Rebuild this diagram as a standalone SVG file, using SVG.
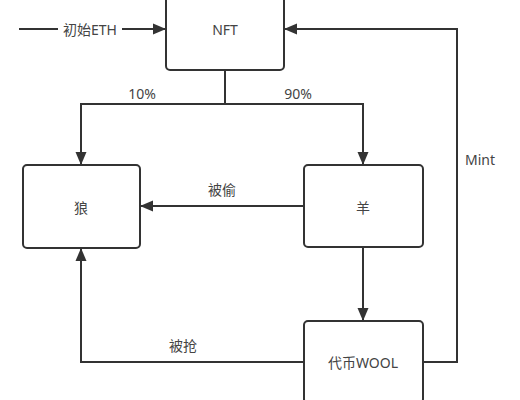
<svg xmlns="http://www.w3.org/2000/svg" width="520" height="400" viewBox="0 0 520 400">
<defs>
<marker id="arr" markerUnits="userSpaceOnUse" markerWidth="14" markerHeight="12" refX="13" refY="6" orient="auto">
<path d="M0,0.5 L13,6 L0,11.5 z" fill="#333"/>
</marker>
<style>
.box{fill:#fff;stroke:#333;stroke-width:2}
.edge{fill:none;stroke:#333;stroke-width:2;marker-end:url(#arr)}
.line{fill:none;stroke:#333;stroke-width:2}
text{font-family:"Noto Sans","Noto Sans CJK SC",sans-serif;font-size:14px;fill:#444;text-anchor:middle;dominant-baseline:central}
</style>
</defs>
<rect width="520" height="400" fill="#fff"/>
<g id="connectors">
<path class="edge" d="M19,29 H166"/>
<rect x="58" y="19" width="64" height="20" fill="#fff"/>
<text x="90" y="29">初始ETH</text>
<path class="line" d="M225,70 V104"/>
<path class="edge" d="M225,104 H81 V165"/>
<path class="edge" d="M225,104 H363 V165"/>
<text x="142" y="93">10%</text>
<text x="298" y="93">90%</text>
<path class="edge" d="M304,206 H140"/>
<text x="222" y="189">被偷</text>
<path class="edge" d="M363,247 V321"/>
<path class="edge" d="M304,362 H81 V248"/>
<text x="183" y="345">被抢</text>
<path class="edge" d="M423,362 H457 V29 H284"/>
<text x="480" y="159">Mint</text>
</g>
<g id="nft"><rect class="box" x="166" y="-10" width="118" height="80" rx="4"/><text x="225" y="29">NFT</text></g>
<g id="wolf"><rect class="box" x="23" y="165" width="117" height="83" rx="4"/><text x="81" y="207">狼</text></g>
<g id="sheep"><rect class="box" x="304" y="165" width="119" height="82" rx="4"/><text x="363" y="207">羊</text></g>
<g id="wool"><rect class="box" x="304" y="321" width="119" height="82" rx="4"/><text x="363" y="362">代币WOOL</text></g>
</svg>
